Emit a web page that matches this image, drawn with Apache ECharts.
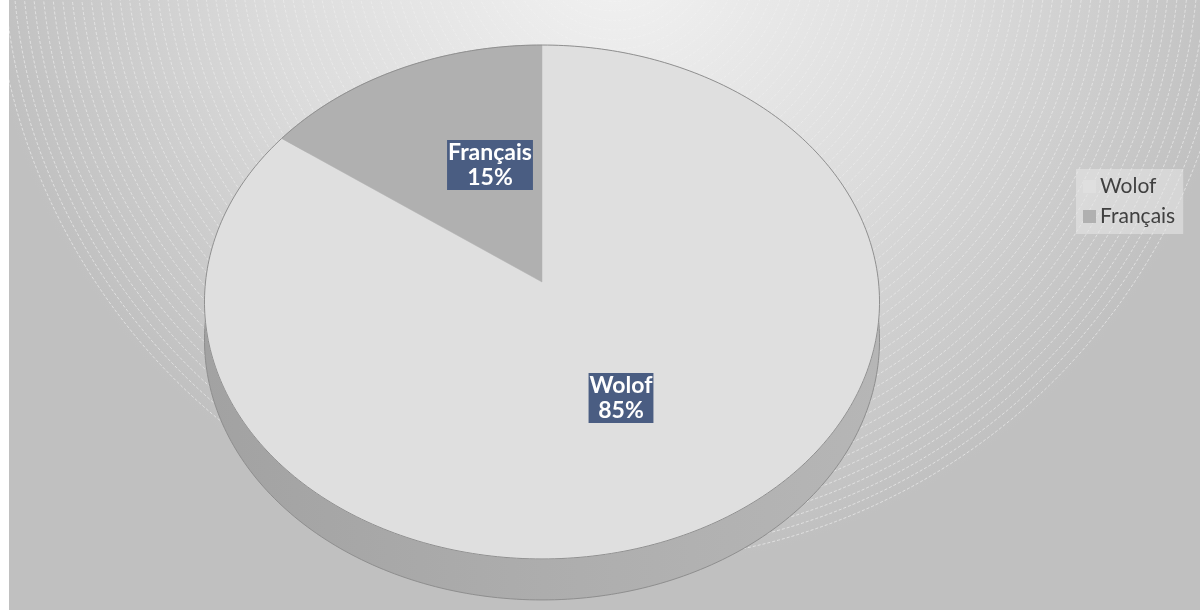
<!DOCTYPE html>
<html>
<head>
<meta charset="utf-8">
<script src="https://cdn.jsdelivr.net/npm/echarts@6/dist/echarts.min.js"></script>
<style>
html,body{margin:0;padding:0;background:#ffffff;}
#chart{width:1200px;height:610px;}
</style>
</head>
<body>
<div id="chart"></div>
<script>
// ---- data ----
const categories = ['Wolof', 'Français'];
const values = [85, 15];

// ---- style / layout ----
const topColors = ['#dfdfdf', '#b0b0b0'];
const labelPos = [[621, 398], [490, 165]];
const CX = 542, CY = 282, RX = 336.5, RY = 255.4, K = 0.0778, DEPTH = 37.8;

const total = values.reduce((a, b) => a + b, 0);
const cum = [0];
values.forEach((v, i) => cum.push(cum[i] + v));

function proj(theta, f) {
  const u = f * Math.sin(theta), v = -f * Math.cos(theta);
  const w = 1 - K * v;
  return [CX + RX * u / w, CY + RY * v / w, w];
}
function arcPts(a0, a1, depth) {
  const n = Math.max(2, Math.ceil((a1 - a0) / (2 * Math.PI) * 360));
  const pts = [];
  for (let j = 0; j <= n; j++) {
    const t = a0 + (a1 - a0) * j / n;
    const p = proj(t, 1);
    pts.push([p[0], p[1] + (depth ? DEPTH / p[2] : 0)]);
  }
  return pts;
}
function angles(i) {
  return [cum[i] / total * 2 * Math.PI, cum[i + 1] / total * 2 * Math.PI];
}

const chart = echarts.init(document.getElementById('chart'), null, {renderer: 'canvas'});

// background decoration
const BGX = 615, BGY = -60, BGR = 630;
const bg = [{
  type: 'rect', z: -20, silent: true,
  shape: {x: 9, y: 0, width: 1191, height: 610},
  style: {fill: {type: 'radial', x: BGX, y: BGY, r: BGR, global: true,
    colorStops: [{offset: 0, color: '#f3f3f3'}, {offset: 0.55, color: '#dcdcdc'}, {offset: 1, color: '#c0c0c0'}]}}
}];
for (let r = 14; r <= BGR; r += 9.5) {
  const a = 0.12 + 0.4 * (r / BGR);
  bg.push({type: 'circle', z: -19, silent: true, shape: {cx: BGX, cy: BGY, r: r},
    style: {fill: null, stroke: 'rgba(255,255,255,' + a.toFixed(3) + ')', lineWidth: 1, lineDash: [3, 2]}});
}

const sideSeries = {
  type: 'custom', name: '_side', coordinateSystem: 'none', z: 1, silent: true,
  data: values.map(v => [v]),
  renderItem: function (params) {
    const [a0, a1] = angles(params.dataIndex);
    const top = arcPts(a0, a1, false);
    const bot = arcPts(a0, a1, true);
    return {
      type: 'group',
      children: [
        {type: 'polygon', shape: {points: top.concat(bot.slice().reverse())},
          style: {fill: {type: 'linear', x: 205, y: 0, x2: 880, y2: 0, global: true,
            colorStops: [{offset: 0, color: '#a2a2a2'}, {offset: 0.5, color: '#adadad'}, {offset: 1, color: '#b6b6b6'}]}}},
        {type: 'polyline', shape: {points: bot}, style: {fill: null, stroke: '#8e8e8e', lineWidth: 1}}
      ]
    };
  }
};

const topSeries = categories.map((name, i) => ({
  type: 'custom', name: name, coordinateSystem: 'none', z: 2, silent: true,
  itemStyle: {color: topColors[i]},
  data: [[values[i]]],
  renderItem: function () {
    const [a0, a1] = angles(i);
    const arc = arcPts(a0, a1, false);
    const pct = Math.round(values[i] / total * 100) + '%';
    return {
      type: 'group',
      children: [
        {type: 'polygon', shape: {points: [[CX, CY]].concat(arc)}, style: {fill: topColors[i], stroke: topColors[i], lineWidth: 0.5}},
        {type: 'polyline', shape: {points: arc}, style: {fill: null, stroke: '#909090', lineWidth: 1}},
        {type: 'text', x: labelPos[i][0], y: labelPos[i][1], z2: 10,
          style: {text: name + '\n' + pct, fill: '#ffffff', font: 'bold 23px Lato',
            lineHeight: 25, align: 'center', verticalAlign: 'middle',
            backgroundColor: '#4a5d82', padding: [0, 1]}}
      ]
    };
  }
}));

chart.setOption({
  animation: false,
  graphic: bg,
  legend: {
    orient: 'vertical', left: 1076, top: 169, itemWidth: 13, itemHeight: 13, itemGap: 9,
    padding: [7, 8, 7, 7], backgroundColor: 'rgba(232,232,232,0.55)',
    icon: 'rect', selectedMode: false,
    data: categories,
    textStyle: {fontFamily: 'Lato', fontSize: 21, color: '#404040', padding: [0, 0, 0, -1]}
  },
  series: [sideSeries].concat(topSeries)
});
</script>
</body>
</html>
